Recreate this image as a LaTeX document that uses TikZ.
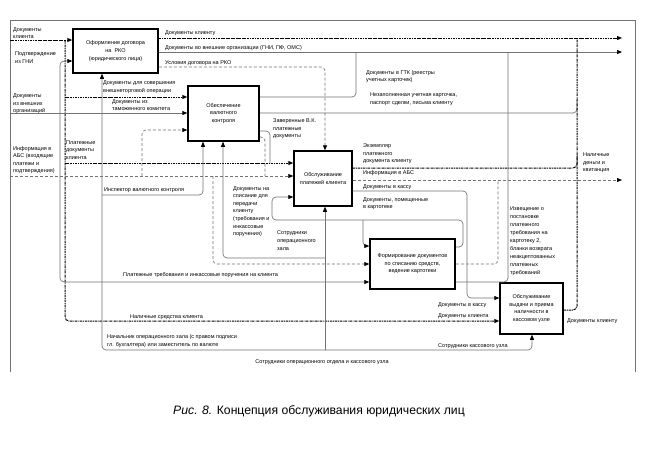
\documentclass[tikz,border=0pt]{standalone}
\usepackage{fontspec}
\setmainfont{Liberation Sans}
\usetikzlibrary{arrows.meta}
\definecolor{linegray}{gray}{0.45}
\begin{document}
\begin{tikzpicture}[x=1pt,y=-1pt,
  font=\fontsize{5.5}{7.6}\selectfont,
  box/.style={draw=black,line width=1.5pt,fill=white,align=center,inner sep=1pt},
  sl/.style={draw=linegray,line width=0.65pt},
  dl/.style={draw=linegray,line width=0.65pt,dash pattern=on 3pt off 2pt},
  ddl/.style={draw=black,line width=1pt,dash pattern=on 2.5pt off 0.8pt on 0.8pt off 0.8pt},
  arr/.style={-{Triangle[length=5pt,width=4pt,color=black]}},
  rc/.style={rounded corners=4pt},
  lbl/.style={anchor=west,inner sep=0pt,align=left},
]
\useasboundingbox (0,0) rectangle (661,456);
\fill[white] (0,0) rectangle (661,456);
% frame
\draw[linegray,line width=0.8pt] (10,372) -- (10,20) -- (635,20) -- (635,372);

% boxes
\node[box,minimum width=85pt,minimum height=44pt] (B1) at (115.5,51) {Оформление договора\\на\ \ РКО\\(юридического лица)};
\node[box,minimum width=71pt,minimum height=55pt] (B2) at (223.5,113.5) {Обеспечение\\валютного\\контроля};
\node[box,minimum width=58pt,minimum height=55pt] (B3) at (323,178.5) {Обслуживание\\платежей клиента};
\node[box,minimum width=85pt,minimum height=50pt] (B4) at (412.5,264) {Формирование документов\\по списанию средств,\\ведение картотеки};
\node[box,minimum width=63pt,minimum height=51pt] (B5) at (531.5,308.5) {Обслуживание\\выдачи и приема\\наличности в\\кассовом узле};

% coordinates
\coordinate (eDK) at (10,40);
\coordinate (v65t) at (65,40);
\coordinate (v65b) at (65,321);
\coordinate (k97) at (65,97);
\coordinate (k163) at (65,163);
\coordinate (eVO) at (10,113);
\coordinate (b60) at (60,113);
\coordinate (b60t) at (60,61);
\coordinate (b60b) at (60,282);
\coordinate (eIA) at (10,176);
\coordinate (a142) at (142,176);
\coordinate (a142t) at (142,130);
\coordinate (a213) at (213,176);
\coordinate (a213b) at (213,264);
\coordinate (r38) at (622,38);
\coordinate (r52) at (622,52);
\coordinate (r180) at (622,180);
\coordinate (u325) at (325,67);
\coordinate (g356) at (356,97);
\coordinate (g356t) at (356,52);
\coordinate (n577) at (577,113);
\coordinate (n577t) at (577,100);
\coordinate (z270) at (270,131);
\coordinate (z270b) at (270,163);
\coordinate (z265) at (265,137);
\coordinate (z265b) at (265,176);
\coordinate (e577) at (577,168);
\coordinate (e577t) at (577,155);
\coordinate (c467) at (467,191);
\coordinate (c467b) at (467,298);
\coordinate (f463) at (463,247);
\coordinate (f463t) at (463,220);
\coordinate (f272) at (272,220);
\coordinate (f272t) at (272,197);
\coordinate (f363) at (363,220);
\coordinate (f363b) at (363,246);
\coordinate (h498) at (498,264);
\coordinate (h498t) at (498,180);
\coordinate (w508) at (508,282);
\coordinate (w508t) at (508,52);
\coordinate (q577) at (577,310);
\coordinate (q577t) at (577,38);
\coordinate (m325) at (325,350);
\coordinate (m102) at (102,350);
\coordinate (m532) at (532,350);
\coordinate (i102) at (102,195);
\coordinate (i203) at (203,195);
\coordinate (s325) at (325,258);
\coordinate (s223) at (223,258);

% left inputs
\draw[ddl,arr] (eDK) -- (eDK -| B1.west);
\draw[ddl,rc,arr] (v65t) -- (v65b) -- (v65b -| B5.west);
\draw[ddl,arr] (k97) -- (k97 -| B2.west);
\draw[ddl,arr] (k163) -- (k163 -| B3.west);
\draw[sl,arr] (eVO) -- (eVO -| B2.west);
\draw[sl,rc,arr] (b60) -- (b60t) -- (b60t -| B1.west);
\draw[sl,rc,arr] (b60) -- (b60b) -- (b60b -| B4.west);
\draw[dl,arr] (eIA) -- (eIA -| B3.west);
\draw[dl,rc,arr] (a142) -- (a142t) -- (a142t -| B2.west);
\draw[dl,rc,arr] (a213) -- (a213b) -- (a213b -| B4.west);

% B1 outputs
\draw[ddl,arr] (r38 -| B1.east) -- (r38);
\draw[sl,arr] (r52 -| B1.east) -- (r52);
\draw[dl,rc,arr] (u325 -| B1.east) -- (u325) -- (u325 |- B3.north);

% B2 outputs
\draw[sl,rc] (g356 -| B2.east) -- (g356) -- (g356t);
\draw[sl,rc] (n577 -| B2.east) -- (n577) -- (n577t);
\draw[sl,rc] (z270 -| B2.east) -- (z270) -- (z270b);
\draw[dl,rc] (z265 -| B2.east) -- (z265) -- (z265b);

% B3 outputs
\draw[ddl,rc] (e577 -| B3.east) -- (e577) -- (e577t);
\draw[dl,arr] (r180 -| B3.east) -- (r180);
\draw[sl,rc,arr] (c467 -| B3.east) -- (c467) -- (c467b) -- (c467b -| B5.west);

% B4 feedback and outputs
\draw[sl,rc,arr] (f463 -| B4.east) -- (f463) -- (f463t) -- (f272) -- (f272t) -- (f272t -| B3.west);
\draw[sl,rc,arr] (f363) -- (f363b) -- (f363b -| B4.west);
\draw[dl,rc] (h498 -| B4.east) -- (h498) -- (h498t);
\draw[sl,rc] (w508 -| B4.east) -- (w508) -- (w508t);

% B5 output
\draw[ddl,rc] (q577 -| B5.east) -- (q577) -- (q577t);

% mechanisms
\draw[sl,rc,arr] (m325) -- (m102) -- (m102 |- B1.south);
\draw[sl,arr] (m325) -- (m325 |- B3.south);
\draw[sl,rc,arr] (m325) -- (m532) -- (m532 |- B5.south);
\draw[sl,rc,arr] (i102) -- (i203) -- (i203 |- B2.south);
\draw[sl,rc,arr] (s325) -- (s223) -- (s223 |- B2.south);

% labels
\node[lbl] (L1) at (13,33) {Документы\\клиента};
\node[lbl] (L2) at (15,57.5) {Подтверждение\\из ГНИ};
\node[lbl] (L3) at (13,104) {Документы\\из внешних\\организаций};
\node[lbl] (L4) at (13,160) {Информация в\\АБС (входящие\\платежи и\\подтверждения)};
\node[lbl] (L5) at (165,33) {Документы клиенту};
\node[lbl] (L6) at (165,48) {Документы во внешние организации (ГНИ, ПФ, ОМС)};
\node[lbl] (L7) at (165,63) {Условия договора на РКО};
\node[lbl] (L8) at (103,87) {Документы для совершения\\внешнеторговой операции};
\node[lbl] (L9) at (112,105) {Документы из\\таможенного комитета};
\node[lbl] (L10) at (366,76.5) {Документы в ГТК (реестры\\учетных карточек)};
\node[lbl] (L11) at (370,99) {Незаполненная учетная карточка,\\паспорт сделки, письма клиенту};
\node[lbl] (L12) at (273,129) {Заверенные В.К.\\платежные\\документы};
\node[lbl] (L13) at (363,154) {Экземпляр\\платежного\\документа клиенту};
\node[lbl] (L14) at (363,173) {Информация в АБС};
\node[lbl] (L15) at (363,187) {Документы в кассу};
\node[lbl] (L16) at (363,203.5) {Документы, помещенные\\в картотеке};
\node[lbl] (L17) at (233,211.5) {Документы на\\списание для\\передачи\\клиенту\\(требования и\\инкассовые\\поручения)};
\node[lbl] (L18) at (277,240.5) {Сотрудники\\операционного\\зала};
\node[lbl] (L19) at (66,150) {Платежные\\документы\\клиента};
\node[lbl] (L20) at (104,190) {Инспектор валютного контроля};
\node[lbl] (L21) at (123,275) {Платежные требования и инкассовые поручения на клиента};
\node[lbl] (L22) at (130,317) {Наличные средства клиента};
\node[lbl] (L23) at (107,341) {Начальник операционного зала (с правом подписи\\гл. бухгалтера) или заместитель по валюте};
\node[inner sep=0pt] (L24) at (322,362) {Сотрудники операционного отдела и кассового узла};
\node[lbl,font=\fontsize{5.5}{8}\selectfont] (L25) at (510,241) {Извещение о\\постановке\\платежного\\требования на\\картотеку 2,\\бланки возврата\\неакцептованных\\платежных\\требований};
\node[lbl] (L26) at (583,163) {Наличные\\деньги и\\квитанция};
\node[lbl] (L27) at (438,305) {Документы в кассу};
\node[lbl] (L28) at (438,316) {Документы клиента};
\node[lbl] (L29) at (567,321) {Документы клиенту};
\node[lbl] (L30) at (438,346) {Сотрудники кассового узла};

% caption
\node[inner sep=0pt] (cap) at (319,411) {\fontsize{12.2}{14}\selectfont\textit{Рис. 8.} Концепция обслуживания юридических лиц};
\end{tikzpicture}
\end{document}
